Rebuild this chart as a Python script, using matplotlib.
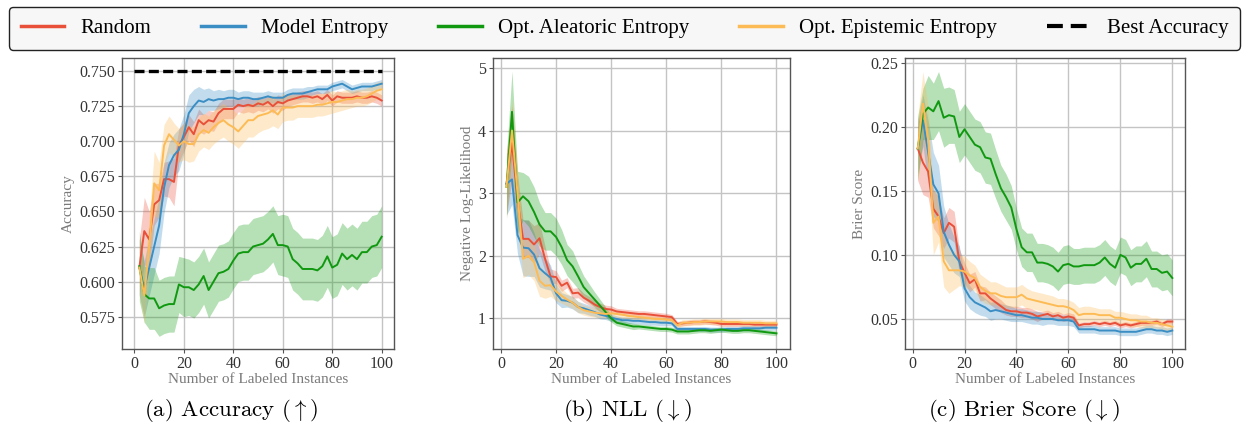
"""Active learning curves: accuracy, NLL and Brier score vs. labeled instances."""

import matplotlib

matplotlib.use("Agg")
import matplotlib.pyplot as plt
import numpy as np
from matplotlib.lines import Line2D

plt.rcParams["font.family"] = ["Liberation Serif", "DejaVu Serif"]
plt.rcParams["mathtext.fontset"] = "cm"

N_LABELED = list(range(2, 101, 2))
BEST_ACCURACY = 0.750

STRATEGIES = ["Random", "Model Entropy", "Opt. Aleatoric Entropy", "Opt. Epistemic Entropy"]
COLORS = ["#e8503a", "#3a8ec4", "#109910", "#fdbb55"]

# --- accuracy (mean, std) ---
acc_random = [0.610, 0.636, 0.630, 0.655, 0.658, 0.673, 0.673, 0.671, 0.697, 0.703,
              0.710, 0.705, 0.715, 0.712, 0.715, 0.714, 0.720, 0.723, 0.723, 0.723,
              0.726, 0.725, 0.726, 0.725, 0.727, 0.726, 0.728, 0.725, 0.728, 0.727,
              0.729, 0.730, 0.731, 0.732, 0.732, 0.731, 0.732, 0.730, 0.733, 0.729,
              0.732, 0.731, 0.731, 0.731, 0.732, 0.731, 0.731, 0.732, 0.731, 0.729]
acc_model = [0.610, 0.595, 0.610, 0.625, 0.640, 0.667, 0.683, 0.690, 0.694, 0.705,
             0.720, 0.725, 0.729, 0.728, 0.730, 0.729, 0.730, 0.730, 0.731, 0.731,
             0.730, 0.731, 0.731, 0.730, 0.730, 0.731, 0.732, 0.731, 0.731, 0.731,
             0.733, 0.734, 0.734, 0.734, 0.735, 0.736, 0.737, 0.737, 0.737, 0.739,
             0.740, 0.741, 0.739, 0.737, 0.738, 0.739, 0.739, 0.739, 0.740, 0.741]
acc_aleatoric = [0.611, 0.591, 0.588, 0.588, 0.581, 0.583, 0.584, 0.584, 0.598, 0.596,
                 0.596, 0.594, 0.598, 0.604, 0.594, 0.600, 0.606, 0.607, 0.609, 0.615,
                 0.620, 0.621, 0.621, 0.625, 0.626, 0.627, 0.630, 0.634, 0.626, 0.626,
                 0.625, 0.616, 0.613, 0.609, 0.609, 0.609, 0.608, 0.611, 0.618, 0.610,
                 0.612, 0.620, 0.616, 0.619, 0.616, 0.621, 0.621, 0.625, 0.626, 0.632]
acc_epistemic = [0.610, 0.590, 0.625, 0.670, 0.665, 0.697, 0.705, 0.701, 0.697, 0.700,
                 0.698, 0.698, 0.705, 0.708, 0.706, 0.710, 0.713, 0.715, 0.712, 0.710,
                 0.707, 0.711, 0.715, 0.715, 0.718, 0.719, 0.720, 0.722, 0.719, 0.724,
                 0.724, 0.724, 0.725, 0.725, 0.725, 0.725, 0.726, 0.726, 0.727, 0.728,
                 0.728, 0.729, 0.730, 0.730, 0.731, 0.731, 0.732, 0.734, 0.736, 0.737]
acc_random_sd = [0.020, 0.024, 0.020, 0.015, 0.012, 0.012, 0.013, 0.017, 0.012, 0.010,
                 0.009, 0.009, 0.008, 0.007, 0.007, 0.007, 0.007, 0.007, 0.007, 0.007,
                 0.005, 0.005, 0.005, 0.005, 0.005, 0.005, 0.005, 0.005, 0.005, 0.005,
                 0.004, 0.004, 0.004, 0.004, 0.004, 0.004, 0.004, 0.004, 0.004, 0.004,
                 0.004, 0.004, 0.004, 0.004, 0.004, 0.004, 0.004, 0.004, 0.004, 0.004]
acc_model_sd = [0.020, 0.020, 0.020, 0.020, 0.020, 0.018, 0.016, 0.015, 0.015, 0.014,
                0.013, 0.012, 0.010, 0.009, 0.008, 0.007, 0.007, 0.006, 0.006, 0.006,
                0.005, 0.005, 0.005, 0.005, 0.005, 0.004, 0.004, 0.004, 0.004, 0.004,
                0.004, 0.004, 0.004, 0.004, 0.004, 0.003, 0.003, 0.003, 0.003, 0.003,
                0.003, 0.003, 0.003, 0.003, 0.003, 0.003, 0.003, 0.003, 0.003, 0.003]
acc_aleatoric_sd = [0.025, 0.020, 0.022, 0.022, 0.020, 0.020, 0.020, 0.020, 0.020, 0.021,
                    0.020, 0.020, 0.020, 0.020, 0.020, 0.020, 0.020, 0.020, 0.020, 0.020,
                    0.020, 0.020, 0.020, 0.020, 0.020, 0.020, 0.020, 0.020, 0.021, 0.022,
                    0.022, 0.022, 0.022, 0.022, 0.022, 0.022, 0.022, 0.022, 0.022, 0.022,
                    0.022, 0.022, 0.022, 0.022, 0.022, 0.022, 0.022, 0.022, 0.022, 0.022]
acc_epistemic_sd = [0.020, 0.020, 0.020, 0.023, 0.020, 0.015, 0.013, 0.012, 0.012, 0.013,
                    0.013, 0.012, 0.012, 0.012, 0.012, 0.012, 0.012, 0.012, 0.012, 0.012,
                    0.012, 0.012, 0.012, 0.012, 0.012, 0.011, 0.011, 0.011, 0.010, 0.010,
                    0.009, 0.009, 0.008, 0.008, 0.008, 0.008, 0.008, 0.008, 0.008, 0.008,
                    0.007, 0.007, 0.007, 0.006, 0.006, 0.006, 0.006, 0.006, 0.006, 0.006]

# --- negative log-likelihood (mean, std) ---
nll_random = [3.15, 3.80, 2.90, 2.27, 2.27, 2.18, 2.28, 1.95, 1.67, 1.66,
              1.52, 1.57, 1.40, 1.41, 1.33, 1.28, 1.22, 1.18, 1.15, 1.14,
              1.11, 1.10, 1.09, 1.08, 1.07, 1.07, 1.06, 1.05, 1.04, 1.03,
              1.02, 0.91, 0.92, 0.93, 0.94, 0.94, 0.95, 0.94, 0.93, 0.91,
              0.91, 0.91, 0.91, 0.91, 0.91, 0.90, 0.90, 0.90, 0.90, 0.90]
nll_model = [3.15, 3.22, 2.33, 2.13, 2.12, 2.02, 1.80, 1.72, 1.65, 1.40,
             1.29, 1.28, 1.25, 1.18, 1.16, 1.13, 1.10, 1.06, 1.04, 1.01,
             0.99, 0.97, 0.97, 0.96, 0.96, 0.95, 0.94, 0.94, 0.93, 0.93,
             0.92, 0.83, 0.83, 0.83, 0.83, 0.83, 0.83, 0.82, 0.82, 0.82,
             0.83, 0.83, 0.83, 0.84, 0.84, 0.84, 0.84, 0.85, 0.85, 0.85]
nll_aleatoric = [3.10, 4.30, 2.85, 2.95, 2.87, 2.70, 2.50, 2.39, 2.39, 2.30,
                 2.14, 1.93, 1.83, 1.67, 1.50, 1.40, 1.30, 1.20, 1.10, 1.00,
                 0.93, 0.91, 0.89, 0.87, 0.87, 0.86, 0.85, 0.84, 0.83, 0.83,
                 0.82, 0.79, 0.79, 0.79, 0.80, 0.81, 0.81, 0.80, 0.81, 0.82,
                 0.81, 0.80, 0.80, 0.81, 0.81, 0.80, 0.79, 0.78, 0.77, 0.76]
nll_epistemic = [3.10, 4.00, 3.00, 1.95, 2.00, 1.90, 1.60, 1.52, 1.53, 1.43,
                 1.36, 1.30, 1.25, 1.18, 1.13, 1.11, 1.09, 1.08, 1.07, 1.08,
                 1.07, 1.06, 1.04, 1.03, 1.02, 1.01, 1.00, 0.99, 0.99, 0.98,
                 0.97, 0.89, 0.93, 0.93, 0.94, 0.94, 0.95, 0.95, 0.95, 0.95,
                 0.94, 0.94, 0.94, 0.93, 0.93, 0.93, 0.93, 0.92, 0.92, 0.92]
nll_random_sd = [0.50, 0.60, 0.40, 0.30, 0.30, 0.30, 0.25, 0.20, 0.12, 0.10,
                 0.09, 0.08, 0.08, 0.08, 0.07, 0.07, 0.06, 0.06, 0.06, 0.06,
                 0.05, 0.05, 0.05, 0.05, 0.05, 0.05, 0.05, 0.05, 0.05, 0.05,
                 0.04, 0.04, 0.04, 0.04, 0.04, 0.04, 0.04, 0.04, 0.04, 0.04,
                 0.04, 0.04, 0.04, 0.04, 0.04, 0.04, 0.04, 0.04, 0.04, 0.04]
nll_model_sd = [0.50, 0.40, 0.30, 0.45, 0.45, 0.35, 0.30, 0.25, 0.20, 0.15,
                0.12, 0.10, 0.10, 0.09, 0.08, 0.08, 0.07, 0.07, 0.06, 0.06,
                0.05, 0.05, 0.05, 0.05, 0.05, 0.05, 0.05, 0.05, 0.05, 0.05,
                0.04, 0.04, 0.04, 0.04, 0.04, 0.04, 0.04, 0.04, 0.04, 0.04,
                0.04, 0.04, 0.04, 0.04, 0.04, 0.04, 0.04, 0.04, 0.04, 0.04]
nll_aleatoric_sd = [0.50, 0.65, 0.50, 0.38, 0.40, 0.40, 0.35, 0.30, 0.30, 0.30,
                    0.28, 0.25, 0.25, 0.20, 0.18, 0.15, 0.12, 0.10, 0.08, 0.06,
                    0.05, 0.05, 0.05, 0.05, 0.04, 0.04, 0.04, 0.04, 0.04, 0.04,
                    0.04, 0.04, 0.04, 0.04, 0.04, 0.04, 0.04, 0.04, 0.04, 0.04,
                    0.04, 0.04, 0.04, 0.04, 0.04, 0.04, 0.04, 0.04, 0.04, 0.04]
nll_epistemic_sd = [0.50, 0.50, 0.40, 0.30, 0.30, 0.30, 0.25, 0.20, 0.18, 0.15,
                    0.12, 0.10, 0.09, 0.09, 0.08, 0.08, 0.07, 0.07, 0.06, 0.06,
                    0.06, 0.05, 0.05, 0.05, 0.05, 0.05, 0.05, 0.05, 0.05, 0.05,
                    0.05, 0.05, 0.05, 0.05, 0.05, 0.05, 0.05, 0.05, 0.05, 0.05,
                    0.05, 0.05, 0.05, 0.05, 0.05, 0.05, 0.05, 0.05, 0.05, 0.05]

# --- Brier score (mean, std) ---
brier_random = [0.183, 0.172, 0.165, 0.136, 0.130, 0.117, 0.125, 0.122, 0.095, 0.086,
                0.078, 0.081, 0.070, 0.070, 0.066, 0.063, 0.060, 0.057, 0.056, 0.056,
                0.055, 0.055, 0.054, 0.052, 0.053, 0.054, 0.052, 0.053, 0.051, 0.052,
                0.051, 0.045, 0.046, 0.046, 0.047, 0.046, 0.047, 0.046, 0.047, 0.045,
                0.046, 0.045, 0.046, 0.047, 0.047, 0.047, 0.048, 0.046, 0.048, 0.048]
brier_model = [0.183, 0.205, 0.180, 0.155, 0.148, 0.118, 0.108, 0.100, 0.095, 0.074,
               0.067, 0.063, 0.061, 0.059, 0.056, 0.057, 0.056, 0.055, 0.054, 0.053,
               0.053, 0.052, 0.051, 0.051, 0.050, 0.050, 0.050, 0.049, 0.049, 0.049,
               0.048, 0.042, 0.042, 0.042, 0.042, 0.041, 0.041, 0.041, 0.041, 0.040,
               0.040, 0.040, 0.040, 0.041, 0.042, 0.042, 0.041, 0.041, 0.040, 0.041]
brier_aleatoric = [0.183, 0.210, 0.215, 0.212, 0.220, 0.207, 0.209, 0.208, 0.192, 0.198,
                   0.192, 0.186, 0.184, 0.176, 0.175, 0.163, 0.152, 0.145, 0.137, 0.120,
                   0.106, 0.102, 0.102, 0.094, 0.094, 0.093, 0.091, 0.087, 0.092, 0.093,
                   0.091, 0.091, 0.092, 0.092, 0.092, 0.094, 0.098, 0.093, 0.090, 0.100,
                   0.098, 0.090, 0.093, 0.093, 0.097, 0.089, 0.089, 0.086, 0.087, 0.082]
brier_epistemic = [0.183, 0.218, 0.190, 0.125, 0.130, 0.095, 0.088, 0.088, 0.088, 0.087,
                   0.084, 0.082, 0.075, 0.072, 0.070, 0.070, 0.068, 0.067, 0.067, 0.067,
                   0.069, 0.066, 0.065, 0.064, 0.063, 0.062, 0.061, 0.060, 0.060, 0.059,
                   0.057, 0.053, 0.054, 0.054, 0.054, 0.053, 0.053, 0.053, 0.051, 0.051,
                   0.050, 0.049, 0.049, 0.048, 0.048, 0.047, 0.047, 0.046, 0.045, 0.044]
brier_random_sd = [0.025, 0.025, 0.020, 0.015, 0.015, 0.012, 0.012, 0.012, 0.010, 0.008,
                   0.007, 0.006, 0.006, 0.005, 0.005, 0.005, 0.005, 0.004, 0.004, 0.004,
                   0.004, 0.004, 0.004, 0.004, 0.003, 0.003, 0.003, 0.003, 0.003, 0.003,
                   0.003, 0.002, 0.002, 0.002, 0.002, 0.002, 0.002, 0.002, 0.002, 0.002,
                   0.002, 0.002, 0.002, 0.002, 0.002, 0.002, 0.002, 0.002, 0.002, 0.002]
brier_model_sd = [0.020, 0.020, 0.025, 0.025, 0.022, 0.020, 0.016, 0.014, 0.012, 0.010,
                  0.009, 0.008, 0.008, 0.007, 0.007, 0.007, 0.006, 0.006, 0.006, 0.005,
                  0.005, 0.005, 0.005, 0.005, 0.005, 0.004, 0.004, 0.004, 0.004, 0.004,
                  0.004, 0.003, 0.003, 0.003, 0.003, 0.003, 0.003, 0.003, 0.003, 0.003,
                  0.003, 0.003, 0.003, 0.003, 0.003, 0.003, 0.003, 0.003, 0.003, 0.003]
brier_aleatoric_sd = [0.025, 0.020, 0.025, 0.022, 0.023, 0.023, 0.022, 0.021, 0.020, 0.020,
                      0.020, 0.020, 0.020, 0.020, 0.020, 0.019, 0.018, 0.018, 0.017, 0.016,
                      0.015, 0.015, 0.015, 0.015, 0.015, 0.015, 0.015, 0.015, 0.015, 0.015,
                      0.014, 0.014, 0.014, 0.014, 0.014, 0.014, 0.014, 0.014, 0.014, 0.014,
                      0.014, 0.014, 0.014, 0.014, 0.014, 0.014, 0.014, 0.014, 0.014, 0.014]
brier_epistemic_sd = [0.025, 0.025, 0.025, 0.025, 0.020, 0.020, 0.018, 0.015, 0.012, 0.012,
                      0.011, 0.010, 0.010, 0.010, 0.009, 0.009, 0.009, 0.008, 0.008, 0.008,
                      0.008, 0.008, 0.007, 0.007, 0.007, 0.007, 0.007, 0.006, 0.006, 0.006,
                      0.006, 0.006, 0.006, 0.006, 0.005, 0.005, 0.005, 0.005, 0.005, 0.005,
                      0.005, 0.005, 0.005, 0.005, 0.005, 0.004, 0.004, 0.004, 0.004, 0.004]

PANELS = [
    dict(means=[acc_random, acc_model, acc_aleatoric, acc_epistemic],
         sds=[acc_random_sd, acc_model_sd, acc_aleatoric_sd, acc_epistemic_sd],
         ylabel="Accuracy", caption=r"(a) Accuracy ($\uparrow$)",
         yticks=[0.575, 0.600, 0.625, 0.650, 0.675, 0.700, 0.725, 0.750],
         ylim=(0.552, 0.7593), xlim=(-5, 105), fmt="{:.3f}"),
    dict(means=[nll_random, nll_model, nll_aleatoric, nll_epistemic],
         sds=[nll_random_sd, nll_model_sd, nll_aleatoric_sd, nll_epistemic_sd],
         ylabel="Negative Log-Likelihood", caption=r"(b) NLL ($\downarrow$)",
         yticks=[1, 2, 3, 4, 5], ylim=(0.51, 5.16), xlim=(-2.9, 104.9), fmt="{:.0f}"),
    dict(means=[brier_random, brier_model, brier_aleatoric, brier_epistemic],
         sds=[brier_random_sd, brier_model_sd, brier_aleatoric_sd, brier_epistemic_sd],
         ylabel="Brier Score", caption=r"(c) Brier Score ($\downarrow$)",
         yticks=[0.05, 0.10, 0.15, 0.20, 0.25], ylim=(0.0266, 0.2536),
         xlim=(-2.9, 104.9), fmt="{:.2f}"),
]

AX_RECTS = [(0.0977, 0.1769, 0.2178, 0.6863),
            (0.3947, 0.1769, 0.2378, 0.6863),
            (0.7246, 0.1769, 0.2242, 0.6863)]
CAPTION_X = [0.185, 0.502, 0.820]

fig = plt.figure(figsize=(12.49, 4.24), dpi=100)
x = np.array(N_LABELED)

for i, panel in enumerate(PANELS):
    ax = fig.add_axes(AX_RECTS[i])
    for mean, sd, color in zip(panel["means"], panel["sds"], COLORS):
        m, s = np.array(mean), np.array(sd)
        ax.fill_between(x, m - s, m + s, color=color, alpha=0.3, linewidth=0)
        ax.plot(x, m, color=color, linewidth=1.4)
    if i == 0:
        ax.plot([0, 100], [BEST_ACCURACY, BEST_ACCURACY], color="black",
                linewidth=2.4, dashes=(3.0, 1.3))
    ax.set_xlim(*panel["xlim"])
    ax.set_ylim(*panel["ylim"])
    ax.set_xticks([0, 20, 40, 60, 80, 100])
    ax.set_yticks(panel["yticks"], labels=[panel["fmt"].format(t) for t in panel["yticks"]])
    ax.grid(True, color="#c4c4c4", linewidth=1.0)
    ax.set_axisbelow(True)
    for spine in ax.spines.values():
        spine.set_color("#555555")
        spine.set_linewidth(1.0)
    ax.tick_params(labelsize=11.5, colors="#555555", labelcolor="#333333",
                   length=3, width=0.8, pad=2)
    ax.set_xlabel("Number of Labeled Instances", fontsize=11, color="#7a7a7a", labelpad=1)
    ax.set_ylabel(panel["ylabel"], fontsize=11, color="#7a7a7a", labelpad=3)
    fig.text(CAPTION_X[i], 0.033, panel["caption"], ha="center", va="center",
             fontsize=16.5, family=["cmr10", "DejaVu Serif"])

handles = [Line2D([], [], color=c, linewidth=2.5) for c in COLORS]
handles.append(Line2D([], [], color="black", linewidth=3.0, dashes=(3.8, 1.9)))
leg = fig.legend(handles, STRATEGIES + ["Best Accuracy"], loc="upper center",
                 bbox_to_anchor=(0.5, 0.998), ncol=5, fontsize=15, frameon=True,
                 fancybox=True, facecolor="#f7f7f7", edgecolor="#222222",
                 framealpha=1.0, handlelength=2.1, handletextpad=0.77,
                 columnspacing=2.4, borderpad=0.55, borderaxespad=0.3)
leg.get_frame().set_linewidth(1.0)

fig.savefig("out.png", dpi=100)
